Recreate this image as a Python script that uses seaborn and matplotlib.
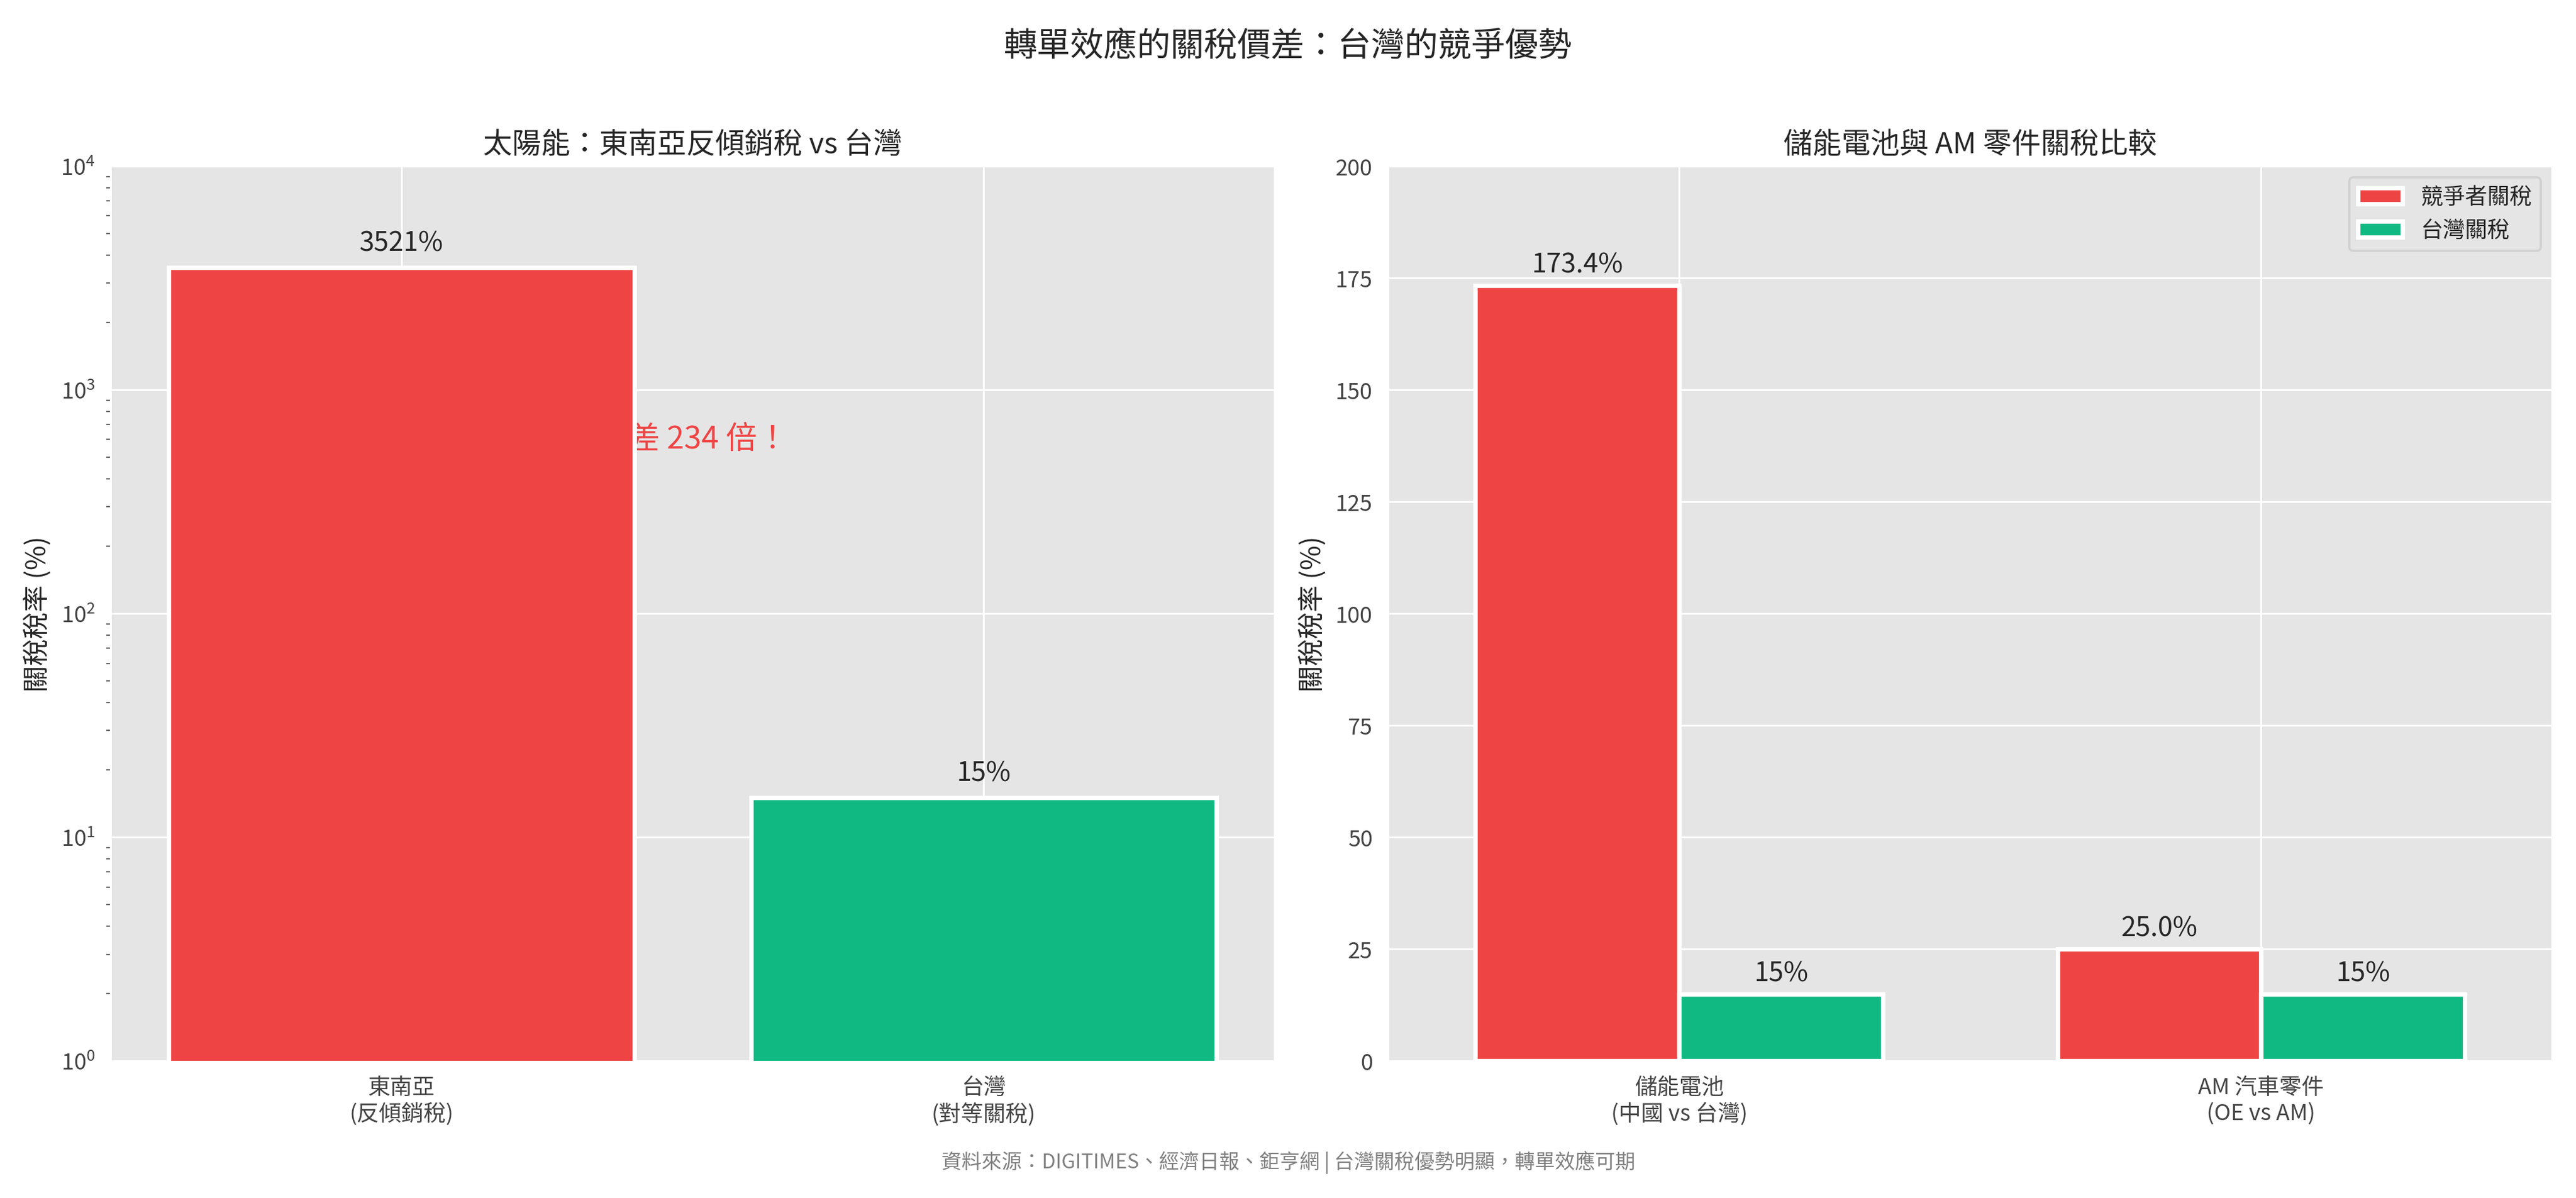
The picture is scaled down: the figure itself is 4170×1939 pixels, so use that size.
import matplotlib.pyplot as plt
import seaborn as sns
import pandas as pd

# data
solar_labels = ["東南亞\n(反傾銷稅)", "台灣\n(對等關稅)"]
solar_values = [3521, 15]
solar_text = ["3521%", "15%"]

prod_labels = ["儲能電池\n(中國 vs 台灣)", "AM 汽車零件\n(OE vs AM)"]
competitor_values = [173.4, 25.0]
taiwan_values = [15, 15]
series_names = ["競爭者關稅", "台灣關稅"]

red = "#EF4444"
green = "#10B981"

sns.set_style("darkgrid", {"axes.facecolor": "#E5E5E5", "grid.color": "white"})
plt.rcParams["font.family"] = ["Noto Sans CJK TC", "DejaVu Sans"]
plt.rcParams["axes.unicode_minus"] = False

fig, (ax1, ax2) = plt.subplots(1, 2, figsize=(16.04, 7.46), dpi=260)

# 左圖：太陽能
df1 = pd.DataFrame({"label": solar_labels, "value": solar_values})
sns.barplot(data=df1, x="label", y="value", hue="label", palette=[red, green],
            saturation=1, ax=ax1, edgecolor="white", linewidth=2, width=0.8,
            zorder=3, legend=False)
ax1.set_yscale("log")
ax1.set_ylim(1, 1e4)
ax1.tick_params(axis="y", which="minor", left=True, length=2, color="#666666")
for i, (v, t) in enumerate(zip(solar_values, solar_text)):
    ax1.text(i, v * 1.12, t, ha="center", va="bottom", fontsize=12, zorder=4)
ax1.text(0.5, 600, "相差 234 倍！", ha="center", va="center", color=red,
         fontsize=14, zorder=1)
ax1.set_title("太陽能：東南亞反傾銷稅 vs 台灣", fontsize=13)
ax1.set_xlabel("")
ax1.set_ylabel("關稅稅率 (%)", fontsize=12)

# 右圖：儲能電池與 AM 零件
df2 = pd.DataFrame({
    "label": prod_labels * 2,
    "value": competitor_values + taiwan_values,
    "series": [series_names[0]] * 2 + [series_names[1]] * 2,
})
sns.barplot(data=df2, x="label", y="value", hue="series", palette=[red, green],
            saturation=1, ax=ax2, edgecolor="white", linewidth=2, width=0.7,
            zorder=3)
for c, fmt in zip(ax2.containers, ["{:.1f}%", "{:.0f}%"]):
    ax2.bar_label(c, labels=[fmt.format(b.get_height()) for b in c],
                  padding=3, fontsize=12)
ax2.set_ylim(0, 200)
ax2.set_title("儲能電池與 AM 零件關稅比較", fontsize=13)
ax2.set_xlabel("")
ax2.set_ylabel("關稅稅率 (%)", fontsize=12)
ax2.legend(loc="upper right", fontsize=10)

for ax in (ax1, ax2):
    ax.tick_params(labelsize=10, colors="#444444")
    ax.xaxis.grid(True, color="white")
    ax.set_axisbelow(True)

fig.suptitle("轉單效應的關稅價差：台灣的競爭優勢", fontsize=15, y=0.975)
fig.text(0.5, 0.025, "資料來源：DIGITIMES、經濟日報、鉅亨網 | 台灣關稅優勢明顯，轉單效應可期",
         ha="center", fontsize=9, color="gray")
plt.tight_layout(rect=[0, 0.04, 1, 0.96])
plt.savefig("out.png", dpi=260)
